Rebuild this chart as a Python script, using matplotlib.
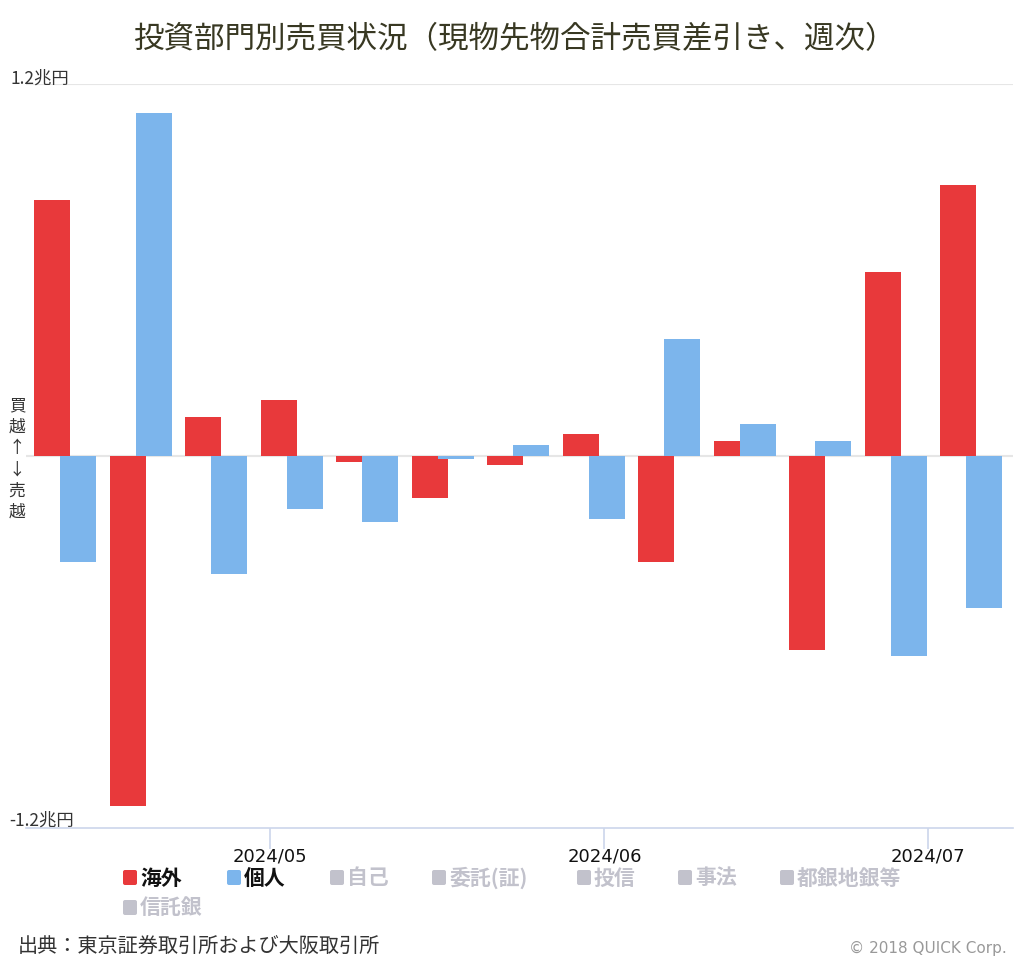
import matplotlib
matplotlib.use("Agg")
import matplotlib.pyplot as plt
import matplotlib.dates as mdates
from matplotlib.patches import FancyBboxPatch
from datetime import datetime

plt.rcParams["font.family"] = ["Noto Sans CJK JP", "DejaVu Sans"]

# weekly (Friday) net buy/sell, trillion yen
weeks = ["2024-04-12", "2024-04-19", "2024-04-26", "2024-05-03", "2024-05-10",
         "2024-05-17", "2024-05-24", "2024-05-31", "2024-06-07", "2024-06-14",
         "2024-06-21", "2024-06-28", "2024-07-05"]
kaigai = [0.826, -1.130, 0.126, 0.181, -0.019, -0.135, -0.030, 0.071,
          -0.342, 0.049, -0.626, 0.594, 0.874]
kojin = [-0.342, 1.106, -0.380, -0.171, -0.213, -0.010, 0.035, -0.203,
         0.377, 0.103, 0.048, -0.645, -0.490]

legend_shown = ["海外", "個人"]
legend_hidden = ["自己", "委託(証)", "投信", "事法", "都銀地銀等", "信託銀"]

red = "#e8393b"
blue = "#7cb5ec"
hidden = "#c2c2cc"

dates = [datetime.strptime(d, "%Y-%m-%d") for d in weeks]
x = mdates.date2num(dates)

fig = plt.figure(figsize=(10.24, 9.64), dpi=100)
ax = fig.add_axes([26 / 1024, 136 / 964, 987 / 1024, 744 / 964])

w = 3.34
ax.bar(x - 1.2, kaigai, width=w, color=red, zorder=2)
ax.bar(x + 1.2, kojin, width=w, color=blue, zorder=3)

ax.set_ylim(-1.2, 1.2)
ax.set_xlim(mdates.date2num(datetime(2024, 4, 8, 9)), mdates.date2num(datetime(2024, 7, 8, 21)))

for yv in (0, 1.2):
    ax.axhline(yv, color="#e6e6e6", lw=1.5, zorder=1)

for s in ("top", "right", "left"):
    ax.spines[s].set_visible(False)
ax.spines["bottom"].set_color("#ccd6eb")
ax.spines["bottom"].set_linewidth(1.2)

ax.set_yticks([])
ax.xaxis.set_major_locator(mdates.MonthLocator(bymonth=[5, 6, 7]))
ax.xaxis.set_major_formatter(mdates.DateFormatter("%Y/%m"))
ax.tick_params(axis="x", length=15, width=1.2, color="#ccd6eb", labelsize=13,
               labelcolor="#111111", pad=-1)
for lab in ax.get_xticklabels():
    lab.set_family("DejaVu Sans")

fig.text(514 / 1024, 1 - 40 / 964, "投資部門別売買状況（現物先物合計売買差引き、週次）",
         ha="center", va="center", fontsize=22, color="#383822")

fig.text(10 / 1024, 1 - 79 / 964, "1.2兆円", ha="left", va="center", fontsize=12.5, color="#333333")
fig.text(9 / 1024, 1 - 821 / 964, "-1.2兆円", ha="left", va="center", fontsize=12.5, color="#333333")
fig.text(17 / 1024, 1 - 459 / 964, "買\n越\n↑\n↓\n売\n越", ha="center", va="center",
         fontsize=12, color="#333333", linespacing=1.33)


def swatch(px, py, color):
    fig.patches.append(FancyBboxPatch((px / 1024, 1 - (py + 7) / 964), 14 / 1024, 15 / 964,
                                      boxstyle="round,pad=0,rounding_size=0.002",
                                      transform=fig.transFigure, color=color, lw=0))


row1 = [(123, legend_shown[0], red, "#111111"), (227, legend_shown[1], blue, "#111111"),
        (330, legend_hidden[0], hidden, hidden), (432, legend_hidden[1], hidden, hidden),
        (577, legend_hidden[2], hidden, hidden), (678, legend_hidden[3], hidden, hidden),
        (780, legend_hidden[4], hidden, hidden)]
for px, name, c, tc in row1:
    swatch(px, 878, c)
    fig.text((px + 17) / 1024, 1 - 878 / 964, name, ha="left", va="center",
             fontsize=15, fontweight="bold", color=tc)
swatch(123, 908, hidden)
fig.text(140 / 1024, 1 - 908 / 964, legend_hidden[5], ha="left", va="center",
         fontsize=15, fontweight="bold", color=hidden)

fig.text(18 / 1024, 1 - 946 / 964, "出典：東京証券取引所および大阪取引所", ha="left", va="center",
         fontsize=14.5, color="#333333")
fig.text(1007 / 1024, 1 - 948 / 964, "© 2018 QUICK Corp.", ha="right", va="center",
         fontsize=11, color="#999999", family="DejaVu Sans")

fig.savefig("out.png", dpi=100)
